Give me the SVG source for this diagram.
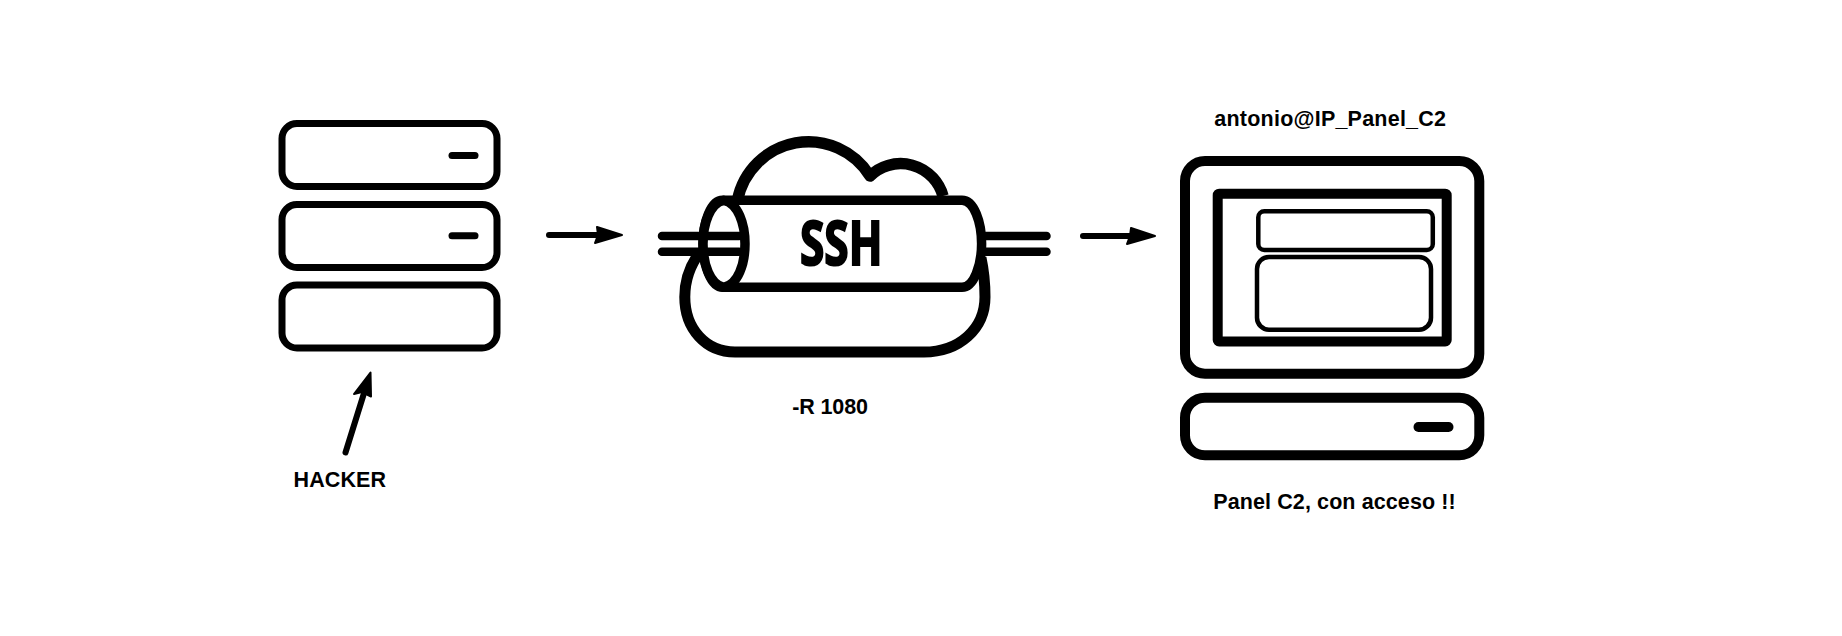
<svg xmlns="http://www.w3.org/2000/svg" width="1842" height="636" viewBox="0 0 1842 636">
<style>
.box{fill:#fff;stroke:#000;stroke-linejoin:round}
.s7{stroke-width:7}
.s10{stroke-width:10}
.led{fill:none;stroke:#000;stroke-linecap:round}
.pipe{fill:none;stroke:#000;stroke-width:8.5;stroke-linecap:round}
.shaft{fill:none;stroke:#000;stroke-width:6;stroke-linecap:round}
.head{fill:#000;stroke:#000;stroke-width:2;stroke-linejoin:round}
.label{font-family:"Liberation Sans",Arial,sans-serif;font-weight:700;font-size:21.5px;fill:#000}
</style>
<rect width="1842" height="636" fill="#fff"/>
<g id="hacker-server">
<rect class="box s7" x="282" y="123.5" width="215" height="63" rx="15"/>
<path class="led" stroke-width="7" d="M452 155.5H475"/>
<rect class="box s7" x="282" y="204.5" width="215" height="63" rx="15"/>
<path class="led" stroke-width="7" d="M452 235.7H475"/>
<rect class="box s7" x="282" y="285" width="215" height="63" rx="15"/>
<text class="label" x="293.500" y="486.500" textLength="92.500">HACKER</text>
</g>
<g id="ssh-tunnel">
<path d="M737.500 200A72.400 72.400 0 0 1 870 176A44 44 0 0 1 943 196" fill="none" stroke="#000" stroke-width="11.500" stroke-linejoin="round"/>
<path d="M700 252C688 268 684.800 283 684.800 297C684.800 329 706 352 735 352H924C959 352 985 329 985 297C985 285 984 272 981 258" fill="none" stroke="#000" stroke-width="11"/>
<path class="box" stroke-width="9.500" d="M722.600 200.300H962C974 200.300 981.600 222 981.600 243.800C981.600 265 974 287.300 962 287.300H722.600C711 287.300 703 265 703 243.800C703 222 711 200.300 722.600 200.300Z"/>
<path class="box" stroke-width="9.500" d="M723.700 200.300C738 203 745 224 745 243.800C745 264 738 284.500 723.700 287.300C710 284.500 703 264 703 243.800C703 224 710 203 723.700 200.300Z"/>
<path class="pipe" d="M662 236H739M662 251.700H739M986 236H1046.500M986 251.700H1046.500"/>
<text x="800" y="265" textLength="82.500" lengthAdjust="spacingAndGlyphs" style="font-family:'Open Sans','Liberation Sans',sans-serif;font-weight:700;font-size:60px;fill:#000;stroke:#000;stroke-width:2.200">SSH</text>
<text class="label" x="792.200" y="414" textLength="75.800">-R 1080</text>
</g>
<g id="panel-c2">
<text class="label" x="1214.300" y="125.700" textLength="231.700">antonio@IP_Panel_C2</text>
<rect class="box s10" x="1185" y="161" width="294.300" height="212.700" rx="20"/>
<rect class="box s10" x="1217.700" y="193.700" width="229" height="147.700" rx="1.500"/>
<rect class="box" stroke-width="4.500" x="1258.300" y="211.300" width="174.500" height="38.700" rx="6"/>
<rect class="box" stroke-width="4.500" x="1257" y="257" width="174" height="72.700" rx="12"/>
<rect class="box s10" x="1185" y="397.700" width="294.300" height="57.600" rx="20"/>
<path class="led" stroke-width="10" d="M1418.500 427H1448.500"/>
<text class="label" x="1213.300" y="509" textLength="242.400">Panel C2, con acceso !!</text>
</g>
<g id="connectors">
<path class="shaft" d="M549 235H605"/>
<path class="head" d="M597 227L622 235L595 243L598 235Z"/>
<path class="shaft" d="M345.500 452.500L365 390"/>
<path class="head" d="M354 394L370.500 372.500L371 396.500L362 392Z"/>
<path class="shaft" d="M1083 236H1135"/>
<path class="head" d="M1131 228L1155 236L1127 244L1130 236Z"/>
</g>
</svg>
